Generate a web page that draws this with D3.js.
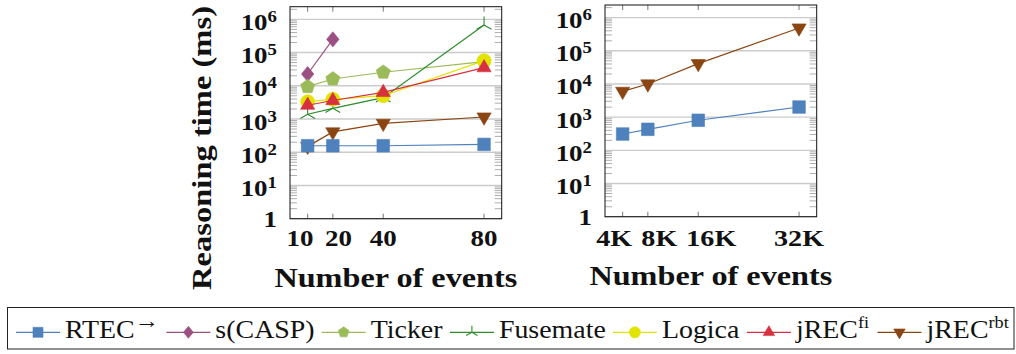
<!DOCTYPE html>
<html><head><meta charset="utf-8">
<script src="https://cdn.jsdelivr.net/npm/d3@7"></script>
<style>
body{margin:0;background:#fff}
svg{display:block}
#chart text{font-family:"Liberation Serif","Tinos","Times New Roman","Noto Serif","DejaVu Serif","FreeSerif","Nimbus Roman",serif}
</style>
</head><body>
<svg id="chart" width="1016" height="354"></svg>
<script>
// Event counts (left panel) and stream sizes (right panel)
const eventsSmall = [10, 20, 40, 80];
const eventsLarge = [4000, 8000, 16000, 32000];
const smallTickLabels = ["10", "20", "40", "80"];
const largeTickLabels = ["4K", "8K", "16K", "32K"];
const yTickExponents = [0, 1, 2, 3, 4, 5, 6];

// Reasoning time in ms, small event sets
const rtecSmall     = [157, 157, 157, 172];
const scaspSmall    = [22600, 250000];
const tickerSmall   = [9400, 16000, 25500, 53000];
const fusemateSmall = [1390, 2100, 4380, 675000];
const logicaSmall   = [3320, 3920, 5030, 57000];
const jrecFiSmall   = [2600, 3600, 6300, 35000];
const jrecRbtSmall  = [150, 410, 740, 1150];

// Reasoning time in ms, large streams
const rtecLarge    = [310, 430, 805, 2020];
const jrecRbtLarge = [6000, 10000, 41000, 487000];

const legendOrder = ["rtec", "scasp", "ticker", "fusemate", "logica", "jrecFi", "jrecRbt"];

const styles = {
  rtec:     {color: "#4f81bd", mark: "square",   name: "RTEC",    sup: "\u2192", supSize: 23},
  scasp:    {color: "#9c4f82", mark: "diamond",  name: "s(CASP)", sup: null},
  ticker:   {color: "#9bbb59", mark: "pentagon", name: "Ticker",  sup: null},
  fusemate: {color: "#2e8b2e", mark: "star",     name: "Fusemate",sup: null},
  logica:   {color: "#e3e300", mark: "circle",   name: "Logica",  sup: null},
  jrecFi:   {color: "#d7303f", mark: "triUp",    name: "jREC",    sup: "fi",  supSize: 17},
  jrecRbt:  {color: "#8b4513", mark: "triDown",  name: "jREC",    sup: "rbt", supSize: 17}
};

const svg = d3.select("#chart");

function markPath(type, r) {
  switch (type) {
    case "square": return `M${-r},${-r}h${2*r}v${2*r}h${-2*r}Z`;
    case "diamond": return `M0,${-r}L${0.82*r},0L0,${r}L${-0.82*r},0Z`;
    case "pentagon": {
      const pts = d3.range(5).map(k => {
        const a = (-90 + 72 * k) * Math.PI / 180;
        return [r * Math.cos(a), r * Math.sin(a)];
      });
      return "M" + pts.map(p => p.join(",")).join("L") + "Z";
    }
    case "circle": return `M${r},0A${r},${r} 0 1,1 ${-r},0A${r},${r} 0 1,1 ${r},0Z`;
    case "triUp": return `M0,${-r}L${0.866*r},${0.5*r}L${-0.866*r},${0.5*r}Z`;
    case "triDown": return `M0,${r}L${0.866*r},${-0.5*r}L${-0.866*r},${-0.5*r}Z`;
    case "star": return `M0,0L0,${-r}M0,0L${0.866*r},${0.5*r}M0,0L${-0.866*r},${0.5*r}`;
  }
}
const plotMarkSize = {square: 6.3, diamond: 7.6, pentagon: 7.4, star: 8.5, circle: 7, triUp: 8.2, triDown: 8.2};
const legendMarkSize = {square: 5, diamond: 6, pentagon: 5.6, star: 6.5, circle: 5.6, triUp: 6.6, triDown: 6.6};

function drawMark(g, type, color, x, y, r) {
  const filled = type !== "star";
  g.append("path")
    .attr("d", markPath(type, r))
    .attr("transform", `translate(${x},${y})`)
    .attr("fill", filled ? color : "none")
    .attr("stroke", color)
    .attr("stroke-width", filled ? 0.6 : 1.1);
}

// Horizontal factor that makes a sample run span the wanted width
function widthFactor(str, size, weight, target) {
  const t = svg.append("text").attr("font-size", size).attr("font-weight", weight).text(str);
  const w = t.node().getBBox().width;
  t.remove();
  return w > 0 ? target / w : 1;
}
const tickK = widthFactor("10", 23, "bold", 27);
const legendK = widthFactor("Fusemate", 26, "normal", 107);

const panels = [
  {
    x0: 290, x1: 501.7, y0: 6.7, y1: 218.7,
    xDomain: [3, 87], xTicks: eventsSmall, xLabels: smallTickLabels,
    labelNudge: [-7.7, 5.7, 0, 0], labelSize: 23,
    series: [
      {key: "jrecRbt",  x: eventsSmall, y: jrecRbtSmall},
      {key: "rtec",     x: eventsSmall, y: rtecSmall},
      {key: "scasp",    x: eventsSmall.slice(0, scaspSmall.length), y: scaspSmall},
      {key: "ticker",   x: eventsSmall, y: tickerSmall},
      {key: "fusemate", x: eventsSmall, y: fusemateSmall},
      {key: "logica",   x: eventsSmall, y: logicaSmall},
      {key: "jrecFi",   x: eventsSmall, y: jrecFiSmall}
    ],
    showYTitle: true
  },
  {
    x0: 605, x1: 816.7, y0: 5, y1: 216.7,
    xDomain: [1200, 34800], xTicks: eventsLarge, xLabels: largeTickLabels,
    labelNudge: [-8.5, 11.5, 13, 0], labelSize: 24,
    series: [
      {key: "rtec",    x: eventsLarge, y: rtecLarge},
      {key: "jrecRbt", x: eventsLarge, y: jrecRbtLarge}
    ],
    showYTitle: false
  }
];

const yTop = Math.pow(10, 6.38);

panels.forEach(p => {
  const g = svg.append("g");
  const x = d3.scaleLinear().domain(p.xDomain).range([p.x0, p.x1]);
  const y = d3.scaleLog().domain([1, yTop]).range([p.y1, p.y0]);

  // horizontal grid at each decade
  yTickExponents.forEach(e => {
    g.append("line")
      .attr("x1", p.x0).attr("x2", p.x1)
      .attr("y1", y(Math.pow(10, e))).attr("y2", y(Math.pow(10, e)))
      .attr("stroke", "#cbcbcb").attr("stroke-width", 1.4);
  });

  // minor ticks on both vertical edges
  const minors = [];
  yTickExponents.forEach(e => {
    for (let m = 2; m <= 9; m++) {
      const v = m * Math.pow(10, e);
      if (v < yTop) minors.push(v);
    }
  });
  minors.forEach(v => {
    const yy = y(v);
    g.append("line").attr("x1", p.x0).attr("x2", p.x0 + 7).attr("y1", yy).attr("y2", yy)
      .attr("stroke", "#9a9a9a").attr("stroke-width", 0.8);
    g.append("line").attr("x1", p.x1 - 7).attr("x2", p.x1).attr("y1", yy).attr("y2", yy)
      .attr("stroke", "#9a9a9a").attr("stroke-width", 0.8);
  });

  // x major ticks at top and bottom
  p.xTicks.forEach(t => {
    const xx = x(t);
    g.append("line").attr("x1", xx).attr("x2", xx).attr("y1", p.y0).attr("y2", p.y0 + 5)
      .attr("stroke", "#777").attr("stroke-width", 1);
    g.append("line").attr("x1", xx).attr("x2", xx).attr("y1", p.y1).attr("y2", p.y1 - 5)
      .attr("stroke", "#777").attr("stroke-width", 1);
  });

  // series
  const line = d3.line().x(d => x(d[0])).y(d => y(d[1]));
  p.series.forEach(s => {
    const st = styles[s.key];
    const pts = s.x.map((v, i) => [v, s.y[i]]);
    g.append("path").attr("d", line(pts)).attr("fill", "none")
      .attr("stroke", st.color).attr("stroke-width", 1.2);
    pts.forEach(d => drawMark(g, st.mark, st.color, x(d[0]), y(d[1]), plotMarkSize[st.mark]));
  });

  // frame
  g.append("rect").attr("x", p.x0).attr("y", p.y0)
    .attr("width", p.x1 - p.x0).attr("height", p.y1 - p.y0)
    .attr("fill", "none").attr("stroke", "#111").attr("stroke-width", 1);

  // y tick labels
  yTickExponents.forEach(e => {
    const yy = y(Math.pow(10, e));
    const t = g.append("text")
      .attr("text-anchor", "end")
      .attr("font-weight", "bold").attr("font-size", 23)
      .attr("fill", "#111");
    if (e === 0) {
      t.attr("transform", `translate(${p.x0 - 13},${yy + 8}) scale(${tickK},1)`).text("1");
    } else {
      t.attr("transform", `translate(${p.x0 - 13},${yy + 10.5}) scale(${tickK},1)`);
      t.append("tspan").text("10");
      t.append("tspan").attr("font-size", 16).attr("dy", -8).text(String(e));
    }
  });

  // x tick labels
  p.xTicks.forEach((tv, i) => {
    g.append("text")
      .attr("text-anchor", "middle")
      .attr("transform", `translate(${x(tv) + p.labelNudge[i]},245.5) scale(${tickK},1)`)
      .attr("font-weight", "bold").attr("font-size", p.labelSize)
      .attr("fill", "#111")
      .text(p.xLabels[i]);
  });

  // x axis title
  const xt = g.append("text")
    .attr("text-anchor", "middle")
    .attr("font-weight", "bold").attr("font-size", 27)
    .attr("fill", "#111")
    .text("Number of events");
  const kx = 243 / xt.node().getBBox().width;
  xt.attr("transform", `translate(${(p.x0 + p.x1) / 2},${p.y1 + 68}) scale(${kx},1)`);

  if (p.showYTitle) {
    const yt = g.append("text")
      .attr("text-anchor", "middle")
      .attr("font-weight", "bold").attr("font-size", 27)
      .attr("fill", "#111")
      .text("Reasoning time (ms)");
    const ky = 284 / yt.node().getBBox().width;
    yt.attr("transform", `translate(210.5,148) rotate(-90) scale(${ky},1)`);
  }
});

// legend
const lg = svg.append("g");
lg.append("rect").attr("x", 7.5).attr("y", 307.5).attr("width", 1006.5).attr("height", 41.5)
  .attr("fill", "#fff").attr("stroke", "#222").attr("stroke-width", 1);

const legendLineY = 332.3, legendBaseY = 338.3;
let cx = 16;
legendOrder.forEach(key => {
  const st = styles[key];
  lg.append("line").attr("x1", cx).attr("x2", cx + 44)
    .attr("y1", legendLineY).attr("y2", legendLineY)
    .attr("stroke", st.color).attr("stroke-width", 1.2);
  drawMark(lg, st.mark, st.color, cx + 22, legendLineY, legendMarkSize[st.mark]);
  const tx = cx + 49;
  const t = lg.append("text")
    .attr("font-size", 26).attr("fill", "#111");
  t.append("tspan").text(st.name);
  if (st.sup) t.append("tspan").attr("font-size", st.supSize).attr("dy", -10).text(st.sup);
  const w = t.node().getBBox().width * legendK;
  t.attr("transform", `translate(${tx},${legendBaseY}) scale(${legendK},1)`);
  cx = tx + w + 7;
});
</script>
</body></html>
